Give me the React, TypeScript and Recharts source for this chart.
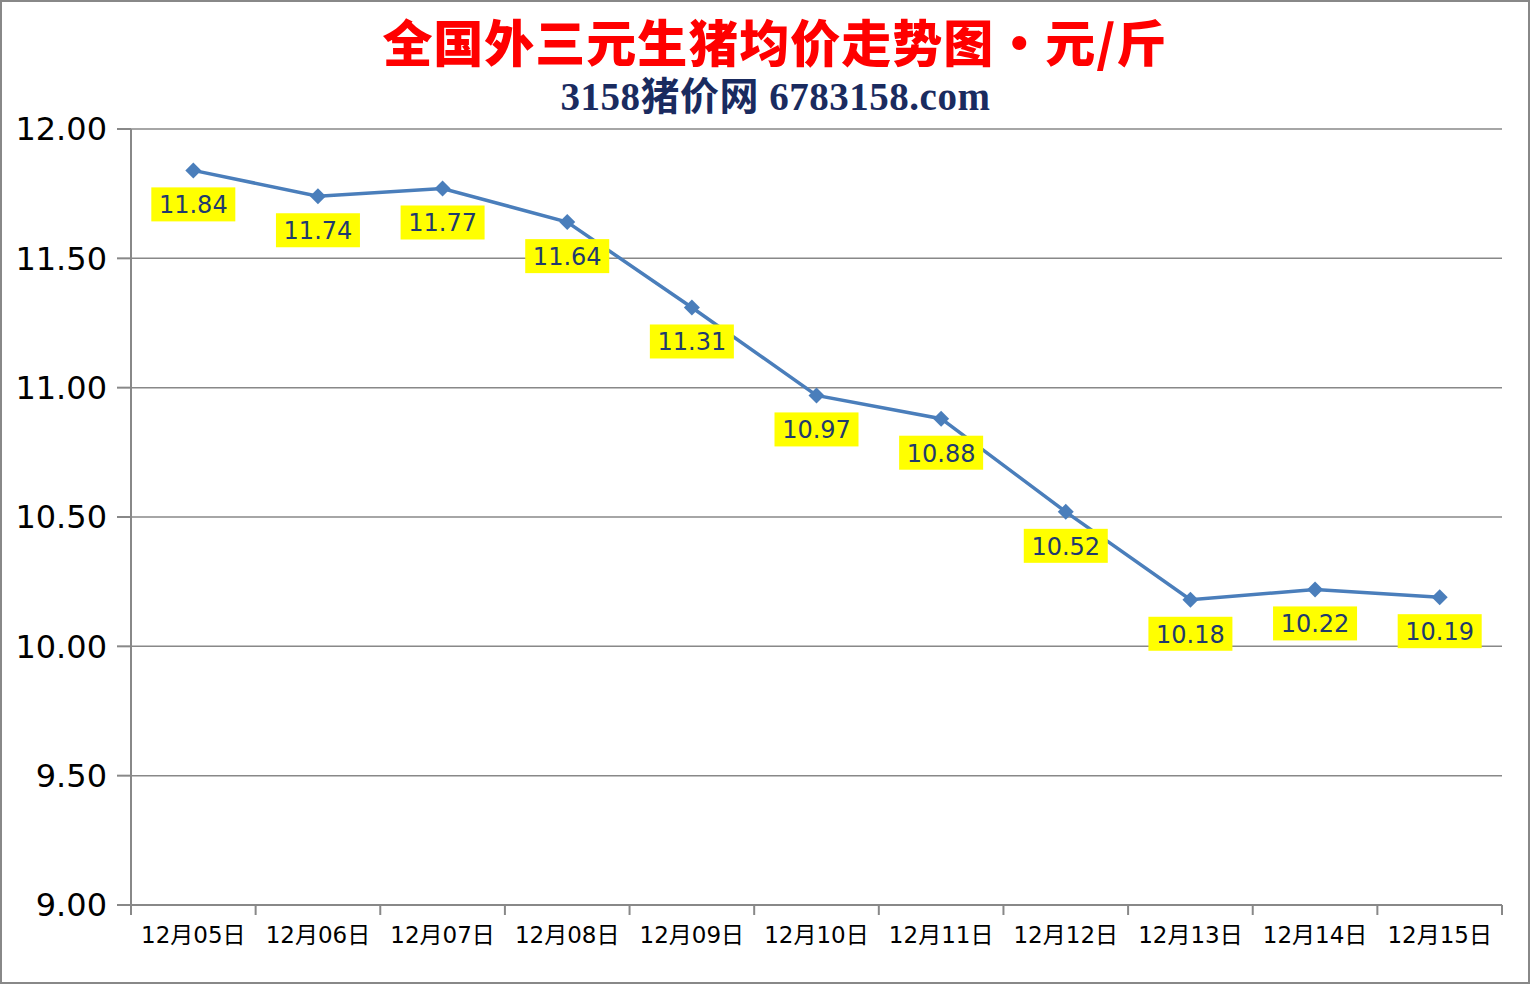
import { CartesianGrid, LabelList, Line, LineChart, XAxis, YAxis } from "recharts";

const categories = [
    "12月05日",
    "12月06日",
    "12月07日",
    "12月08日",
    "12月09日",
    "12月10日",
    "12月11日",
    "12月12日",
    "12月13日",
    "12月14日",
    "12月15日",
];
const prices = [11.84, 11.74, 11.77, 11.64, 11.31, 10.97, 10.88, 10.52, 10.18, 10.22, 10.19];
const yTicks = [9, 9.5, 10, 10.5, 11, 11.5, 12];

const W = 1531;
const H = 985;
const margin = { top: 129, right: 29, bottom: 0, left: 0 };
const xAxisHeight = 80;
const yAxisWidth = 131;
const bandWidth = (W - margin.right - yAxisWidth) / categories.length;
const GRAY = "#888888";

const rows = categories.map((day, i) => ({ day, price: prices[i] }));

function XTick(props: any) {
    const { x, y, payload, index } = props;
    const left = x - bandWidth / 2;
    return (
        <g>
            <line x1={left} y1={y} x2={left} y2={y + 10} stroke={GRAY} strokeWidth={2} />
            {index === categories.length - 1 ? (
                <line x1={x + bandWidth / 2} y1={y} x2={x + bandWidth / 2} y2={y + 10} stroke={GRAY} strokeWidth={2} />
            ) : null}
            <text x={x} y={y + 38} textAnchor="middle" fontSize={23} fill="#000" fontFamily="'DejaVu Sans', 'Noto Sans CJK SC'">
                {payload.value}
            </text>
        </g>
    );
}

function Diamond(props: any) {
    const { cx, cy } = props;
    if (cx == null || cy == null) return null;
    const r = 8;
    return (
        <polygon
            points={`${cx},${cy - r} ${cx + r},${cy} ${cx},${cy + r} ${cx - r},${cy}`}
            fill="#4a7ebb"
        />
    );
}

function PriceLabel(props: any) {
    const { x, y, value } = props;
    return (
        <g>
            <rect x={x - 42} y={y + 17} width={84} height={34} fill="#ffff00" />
            <text
                x={x}
                y={y + 43}
                textAnchor="middle"
                fontSize={24}
                fill="#1f3a6e"
                fontFamily="'DejaVu Sans'"
            >
                {Number(value).toFixed(2)}
            </text>
        </g>
    );
}

export default function App() {
    return (
        <div style={{ position: "absolute", left: 0, top: 0, width: W, height: H, background: "#fff" }}>
            <div
                style={{
                    position: "absolute",
                    left: 0,
                    top: 0,
                    width: W - 1,
                    height: H - 1,
                    boxSizing: "border-box",
                    border: `2px solid ${GRAY}`,
                    pointerEvents: "none",
                }}
            />
            <div
                style={{
                    position: "absolute",
                    left: 0,
                    top: 10,
                    width: 1550,
                    textAlign: "center",
                    color: "#ff0000",
                    fontWeight: 900,
                    fontSize: 50,
                    lineHeight: "60px",
                    fontFamily: "'Noto Sans CJK SC'",
                    letterSpacing: 1,
                }}
            >
                全国外三元生猪均价走势图・元/斤
            </div>
            <div
                style={{
                    position: "absolute",
                    left: 0,
                    top: 75,
                    width: 1551,
                    textAlign: "center",
                    color: "#1a2b5f",
                    fontWeight: 700,
                    fontSize: 39,
                    lineHeight: "44px",
                    fontFamily: "'Liberation Serif', 'Noto Sans CJK SC'",
                    letterSpacing: 0.5,
                }}
            >
                3158猪价网 6783158.com
            </div>
            <LineChart width={W} height={H} data={rows} margin={margin} style={{ position: "absolute", left: 0, top: 0 }}>
                <CartesianGrid vertical={false} stroke={GRAY} strokeWidth={1.5} />
                <XAxis
                    dataKey="day"
                    scale="band"
                    interval={0}
                    tickLine={false}
                    tickSize={0}
                    tickMargin={0}
                    axisLine={{ stroke: GRAY, strokeWidth: 2 }}
                    tick={<XTick />}
                    height={xAxisHeight}
                />
                <YAxis
                    width={yAxisWidth}
                    domain={[9, 12]}
                    ticks={yTicks}
                    interval={0}
                    tickFormatter={(v: number) => v.toFixed(2)}
                    tickSize={14}
                    tickMargin={10}
                    axisLine={{ stroke: GRAY, strokeWidth: 2 }}
                    tickLine={{ stroke: GRAY, strokeWidth: 2 }}
                    tick={{ fill: "#000", fontSize: 32, fontFamily: "'DejaVu Sans'" }}
                />
                <Line
                    type="linear"
                    dataKey="price"
                    stroke="#4a7ebb"
                    strokeWidth={3.5}
                    dot={<Diamond />}
                    activeDot={false}
                    isAnimationActive={false}
                >
                    <LabelList dataKey="price" content={<PriceLabel />} />
                </Line>
            </LineChart>
        </div>
    );
}
